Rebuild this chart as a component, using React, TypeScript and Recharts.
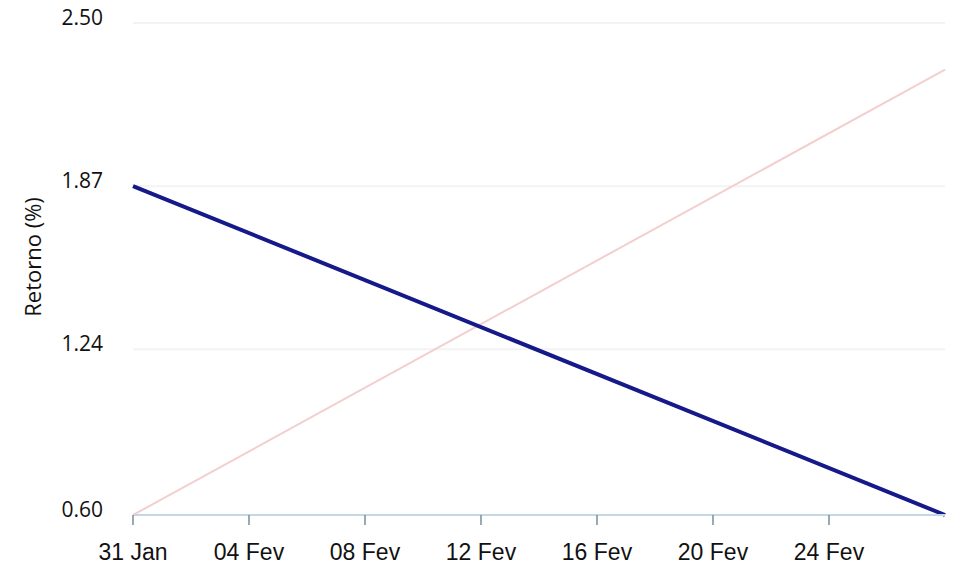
import React from 'react';
import { LineChart, Line, XAxis, YAxis, CartesianGrid } from 'recharts';

// Day offsets from 31 Jan
const days = [0, 28];
const seriesBlue = [1.87, 0.6];
const seriesPink = [0.6, 2.32];

const xTickDays = [0, 4, 8, 12, 16, 20, 24];
const xTickLabels = ['31 Jan', '04 Fev', '08 Fev', '12 Fev', '16 Fev', '20 Fev', '24 Fev'];
const yTicks = [0.6, 1.24, 1.87, 2.5];
const yLabel = 'Retorno (%)';

const data = days.map((d, i) => ({ day: d, blue: seriesBlue[i], pink: seriesPink[i] }));

const YTick = (props: any) => {
  const { x, y, payload } = props;
  return (
    <text
      x={x}
      y={y}
      dy={-6}
      textAnchor="end"
      dominantBaseline="central"
      fill="#111"
      fontSize={21}
      fontFamily="Open Sans, sans-serif"
    >
      {Number(payload.value).toFixed(2)}
    </text>
  );
};

const YLabel = (props: any) => {
  const vb = props.viewBox || {};
  const cx = 32;
  const cy = (vb.y ?? 0) + (vb.height ?? 0) / 2 - 12;
  return (
    <text
      x={cx}
      y={cy}
      transform={`rotate(-90 ${cx} ${cy})`}
      textAnchor="middle"
      dominantBaseline="central"
      fill="#111"
      fontSize={22}
      fontFamily="Open Sans, sans-serif"
    >
      {yLabel}
    </text>
  );
};

export default function App() {
  return (
    <div style={{ position: 'fixed', left: 0, top: 0, width: 953, height: 573, background: '#fff' }}>
      <LineChart
        width={953}
        height={573}
        data={data}
        margin={{ top: 23, right: 8, left: 0, bottom: 0 }}
      >
        <CartesianGrid horizontal vertical={false} stroke="#f3f3f3" strokeWidth={2} />
        <XAxis
          dataKey="day"
          type="number"
          domain={[0, 28]}
          ticks={xTickDays}
          tickFormatter={(v: number) => xTickLabels[xTickDays.indexOf(v)] ?? ''}
          height={58}
          axisLine={{ stroke: '#c3d8e6', strokeWidth: 2 }}
          tickLine={{ stroke: '#7a8c9a', strokeWidth: 1.5 }}
          tickSize={10}
          tickMargin={19}
          tick={{ fill: '#111', fontSize: 23, fontFamily: 'Liberation Sans, Arial, sans-serif' }}
        />
        <YAxis
          type="number"
          domain={[0.6, 2.5]}
          ticks={yTicks}
          width={133}
          axisLine={false}
          tickLine={false}
          tickSize={0}
          tickMargin={30}
          tick={<YTick />}
          label={<YLabel />}
        />
        <Line
          type="linear"
          dataKey="pink"
          stroke="#f3cfcf"
          strokeWidth={2}
          dot={false}
          isAnimationActive={false}
        />
        <Line
          type="linear"
          dataKey="blue"
          stroke="#15198a"
          strokeWidth={4}
          dot={false}
          isAnimationActive={false}
        />
      </LineChart>
    </div>
  );
}
